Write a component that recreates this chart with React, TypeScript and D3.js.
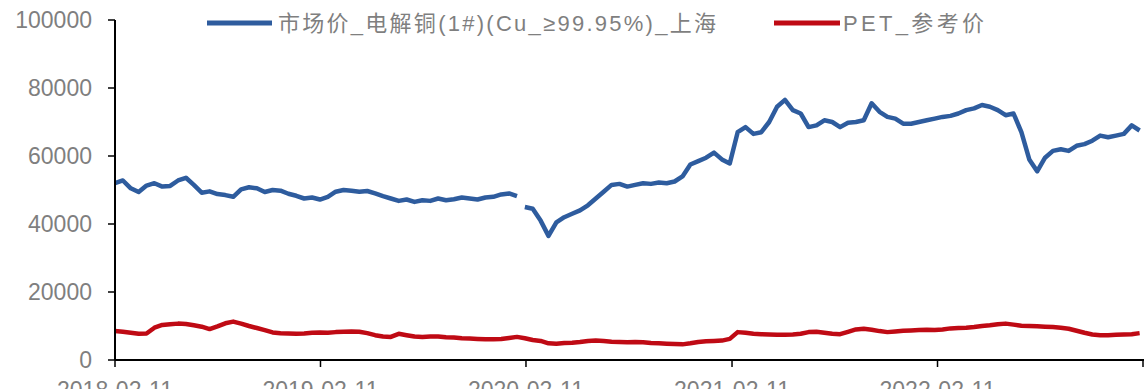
import React from "react";
import * as d3 from "d3";

const startDate = "2018-02-11";
const tickLabels = ["2018-02-11", "2019-02-11", "2020-02-11", "2021-02-11", "2022-02-11"];
const yTicks = [0, 20000, 40000, 60000, 80000, 100000];
const seriesNames = ["市场价_电解铜(1#)(Cu_≥99.95%)_上海", "PET_参考价"];
const copperBreakDate = "2020-01-30";

// bi-weekly observations starting at startDate
const copperValues = [
  52000, 52800, 50500, 49400, 51300, 52000, 51000, 51200, 52800, 53600,
  51500, 49200, 49600, 48800, 48500, 48000, 50200, 50800, 50500, 49400,
  50000, 49800, 48900, 48300, 47500, 47800, 47200, 48000, 49500, 50000,
  49800, 49500, 49700, 49000, 48200, 47500, 46800, 47200, 46500, 47000,
  46800, 47500, 47000, 47300, 47800, 47500, 47200, 47800, 48000, 48700,
  49000, 48200, 45000, 44500, 41000, 36500, 40500, 42000, 43000, 44000,
  45500, 47500, 49500, 51500, 51800, 51000, 51500, 52000, 51800, 52200,
  52000, 52500, 54000, 57500, 58500, 59500, 61000, 59000, 57800, 67000,
  68500, 66500, 67000, 70000, 74500, 76500, 73500, 72500, 68500, 69000,
  70500, 70000, 68500, 69800, 70000, 70500, 75500, 73000, 71500, 71000,
  69500, 69500, 70000, 70500, 71000, 71500, 71800, 72500, 73500, 74000,
  75000, 74500, 73500, 72000, 72500, 67000, 59000, 55500, 59500, 61500,
  62000, 61500, 63000, 63500, 64500, 66000, 65500, 66000, 66500, 69000,
  67500,
];

const petValues = [
  8500, 8300, 8000, 7700, 7800, 9500, 10300, 10500, 10700, 10600,
  10200, 9800, 9100, 9900, 10800, 11300, 10700, 10000, 9400, 8800,
  8100, 7900, 7800, 7700, 7800, 8000, 8100, 8000, 8200, 8300,
  8400, 8300, 7900, 7300, 6900, 6800, 7700, 7300, 6900, 6800,
  6900, 6900, 6700, 6600, 6400, 6300, 6200, 6100, 6100, 6200,
  6500, 6800, 6400, 5900, 5600, 4900, 4800, 5000, 5100, 5300,
  5600, 5700, 5600, 5400, 5300, 5200, 5300, 5200, 5000, 4900,
  4800, 4700, 4600, 4900, 5300, 5500, 5600, 5700, 6200, 8200,
  8000, 7700, 7600, 7500, 7400, 7400, 7500, 7700, 8200, 8300,
  8000, 7700, 7600, 8300, 9000, 9200, 8900, 8500, 8200, 8400,
  8600, 8700, 8800, 8900, 8800, 9000, 9300, 9400, 9500, 9700,
  10000, 10200, 10500, 10700, 10400, 10100, 10000, 9900, 9800, 9700,
  9500, 9200, 8600, 8000, 7500, 7300, 7300, 7400, 7500, 7600,
  7900,
];

const W = 1144;
const H = 389;
const margin = { left: 115, right: 1, top: 20, bottom: 29 };
const BLUE = "#2E5C9E";
const RED = "#BF0A14";
const GRAY = "#7f7f7f";
const FONT = "'Liberation Sans', Arial, 'Noto Sans CJK SC', sans-serif";

export default function App() {
  const parse = d3.timeParse("%Y-%m-%d");
  const start = parse(startDate)!;
  const dates = copperValues.map((_, i) => d3.timeDay.offset(start, 14 * i));
  const brk = parse(copperBreakDate)!;

  const x = d3
    .scaleTime()
    .domain([start, d3.timeDay.offset(start, 1826)])
    .range([margin.left, W - margin.right]);
  const y = d3.scaleLinear().domain([0, 100000]).range([H - margin.bottom, margin.top]);
  const y0 = y(0);

  const line = d3
    .line<[Date, number]>()
    .x((d) => x(d[0]))
    .y((d) => y(d[1]))
    .curve(d3.curveLinear);

  const copper: [Date, number][] = dates.map((d, i) => [d, copperValues[i]]);
  const copperA = copper.filter((d) => d[0] < brk);
  const copperB = copper.filter((d) => d[0] >= brk);
  const pet: [Date, number][] = dates.map((d, i) => [d, petValues[i]]);

  const xTickDates = tickLabels.map((t) => parse(t)!);
  const xTickMarks = [...xTickDates, d3.timeDay.offset(start, 1826)];

  return (
    <svg
      width={W}
      height={H}
      style={{ position: "absolute", left: 0, top: 0, background: "#fff" }}
      fontFamily={FONT}
    >
      <rect x={0} y={0} width={W} height={H} fill="#fff" />
      {/* data lines */}
      <path d={line(pet) || ""} fill="none" stroke={RED} strokeWidth={4.5} strokeLinejoin="round" />
      <path d={line(copperA) || ""} fill="none" stroke={BLUE} strokeWidth={4.5} strokeLinejoin="round" />
      <path d={line(copperB) || ""} fill="none" stroke={BLUE} strokeWidth={4.5} strokeLinejoin="round" />

      {/* y axis */}
      <line x1={margin.left} x2={margin.left} y1={y(100000)} y2={y0} stroke="#000" strokeWidth={2} />
      {yTicks.map((t) => (
        <g key={t}>
          <line x1={margin.left - 7} x2={margin.left} y1={y(t)} y2={y(t)} stroke="#000" strokeWidth={1.5} />
          <text x={92} y={y(t)} dy="0.36em" textAnchor="end" fontSize={23} fill={GRAY}>
            {t}
          </text>
        </g>
      ))}

      {/* x axis */}
      <line x1={margin.left} x2={W} y1={y0} y2={y0} stroke="#000" strokeWidth={2} />
      {xTickMarks.map((d, i) => (
        <line key={i} x1={x(d)} x2={x(d)} y1={y0} y2={y0 + 7} stroke="#000" strokeWidth={1.5} />
      ))}
      {xTickDates.map((d, i) => (
        <text key={i} x={x(d)} y={398} textAnchor="middle" fontSize={23} fill={GRAY}>
          {tickLabels[i]}
        </text>
      ))}

      {/* legend */}
      <line x1={207} x2={272} y1={23} y2={23} stroke={BLUE} strokeWidth={5} />
      <text x={278} y={31} fontSize={22} fill={GRAY} textLength={438} lengthAdjust="spacing">
        {seriesNames[0]}
      </text>
      <line x1={774} x2={840} y1={23} y2={23} stroke={RED} strokeWidth={5} />
      <text x={843} y={31} fontSize={22} fill={GRAY} textLength={141} lengthAdjust="spacing">
        {seriesNames[1]}
      </text>
    </svg>
  );
}
